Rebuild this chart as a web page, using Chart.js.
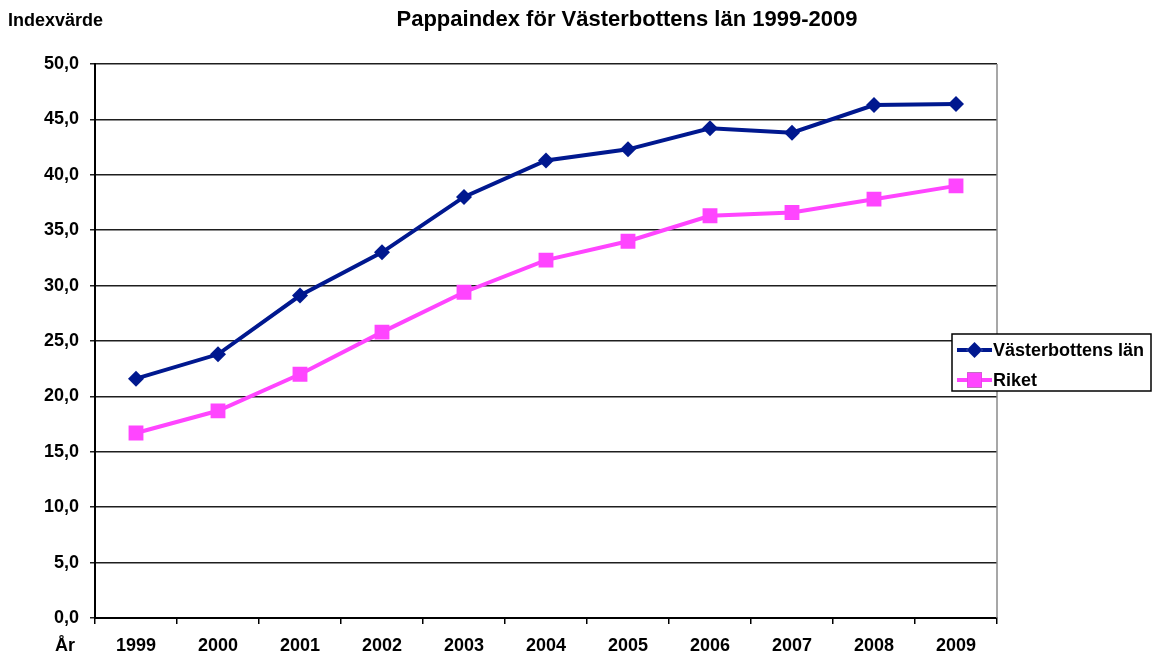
<!DOCTYPE html>
<html>
<head>
<meta charset="utf-8">
<title>Pappaindex för Västerbottens län 1999-2009</title>
<script src="https://cdn.jsdelivr.net/npm/chart.js@4/dist/chart.umd.min.js"></script>
<style>
    html, body { margin: 0; padding: 0; background: #ffffff; }
    #wrap { width: 1152px; height: 655px; position: relative; }
</style>
</head>
<body>
<div id="wrap"><canvas id="pappaindex"></canvas></div>
<script>
const AR = ["1999","2000","2001","2002","2003","2004","2005","2006","2007","2008","2009"];
const VASTERBOTTEN = [21.6, 23.8, 29.1, 33.0, 38.0, 41.3, 42.3, 44.2, 43.8, 46.3, 46.4];
const RIKET = [16.7, 18.7, 22.0, 25.8, 29.4, 32.3, 34.0, 36.3, 36.6, 37.8, 39.0];
const Y_MIN = 0;
const Y_MAX = 50;
const Y_STEG = 5;

const TITEL = "Pappaindex för Västerbottens län 1999-2009";
const Y_TITEL = "Indexvärde";
const X_TITEL = "År";

const TYPSNITT = "'Liberation Sans', Arial, Helvetica, sans-serif";

inicio();

function inicio() {
    const CANVAS = document.getElementById("pappaindex");

    const texter = {
        id: "texter",
        afterDraw(chart) {
            const ctx = chart.ctx;
            const area = chart.chartArea;
            ctx.save();
            // ram till höger om plottytan
            ctx.strokeStyle = "#8a8a8a";
            ctx.lineWidth = 1.5;
            ctx.beginPath();
            ctx.moveTo(area.right, area.top);
            ctx.lineTo(area.right, area.bottom);
            ctx.stroke();

            ctx.fillStyle = "#000000";
            ctx.textBaseline = "middle";
            ctx.font = "bold 22px " + TYPSNITT;
            ctx.textAlign = "center";
            ctx.fillText(TITEL, 627, 20);
            ctx.font = "bold 18px " + TYPSNITT;
            ctx.textAlign = "left";
            ctx.fillText(Y_TITEL, 8, 21);
            ctx.font = "bold 18px " + TYPSNITT;
            ctx.textAlign = "center";
            ctx.fillText(X_TITEL, 65, 646);

            // förklaring
            ctx.fillStyle = "#ffffff";
            ctx.fillRect(952, 334, 199, 57);
            ctx.strokeStyle = "#000000";
            ctx.lineWidth = 1.5;
            ctx.strokeRect(952, 334, 199, 57);
            chart.data.datasets.forEach(function (ds, i) {
                const y = 350 + i * 30;
                ctx.strokeStyle = ds.borderColor;
                ctx.lineWidth = ds.borderWidth;
                ctx.beginPath();
                ctx.moveTo(957, y);
                ctx.lineTo(992, y);
                ctx.stroke();
                Chart.helpers.drawPoint(ctx, {
                    pointStyle: ds.pointStyle,
                    radius: ds.pointRadius,
                    borderWidth: 0
                }, 974.5, y);
                ctx.fillStyle = ds.pointBackgroundColor;
                ctx.fill();
                ctx.fillStyle = "#000000";
                ctx.font = "bold 18px " + TYPSNITT;
                ctx.textAlign = "left";
                ctx.fillText(ds.label, 993, y + 1);
            });
            ctx.restore();
        }
    };

    const DATOS = {
        labels: AR,
        datasets: [
            {
                label: "Västerbottens län",
                data: VASTERBOTTEN,
                borderColor: "#00188f",
                backgroundColor: "#00188f",
                pointBackgroundColor: "#00188f",
                pointBorderColor: "#00188f",
                borderWidth: 4,
                pointStyle: "rectRot",
                pointRadius: 8,
                pointHoverRadius: 8,
                pointBorderWidth: 0,
                tension: 0
            },
            {
                label: "Riket",
                data: RIKET,
                borderColor: "#ff45ff",
                backgroundColor: "#ff45ff",
                pointBackgroundColor: "#ff45ff",
                pointBorderColor: "#ff45ff",
                borderWidth: 4,
                pointStyle: "rect",
                pointRadius: 10.5,
                pointHoverRadius: 10.5,
                pointBorderWidth: 0,
                tension: 0
            }
        ]
    };

    new Chart(CANVAS, {
        type: "line",
        data: DATOS,
        plugins: [texter],
        options: {
            responsive: true,
            maintainAspectRatio: false,
            animation: false,
            layout: {
                padding: { top: 64, right: 155, left: 0, bottom: 0 }
            },
            plugins: {
                legend: { display: false },
                title: { display: false },
                tooltip: { enabled: false }
            },
            scales: {
                x: {
                    offset: true,
                    afterFit: function (scale) { scale.height = 37; },
                    grid: {
                        offset: true,
                        drawOnChartArea: false,
                        drawTicks: true,
                        tickLength: 6,
                        color: "#000000",
                        lineWidth: 1.5
                    },
                    border: { color: "#000000", width: 2 },
                    ticks: {
                        color: "#000000",
                        padding: 11,
                        maxRotation: 0,
                        font: { family: TYPSNITT, size: 18, weight: "bold" }
                    }
                },
                y: {
                    min: Y_MIN,
                    max: Y_MAX,
                    afterFit: function (scale) { scale.width = 95; },
                    grid: {
                        color: "#1e1e1e",
                        lineWidth: 1.5,
                        drawTicks: true,
                        tickLength: 5
                    },
                    border: { color: "#000000", width: 2 },
                    ticks: {
                        stepSize: Y_STEG,
                        color: "#000000",
                        padding: 11,
                        font: { family: TYPSNITT, size: 18, weight: "bold" },
                        callback: function (v) { return v.toFixed(1).replace(".", ","); }
                    }
                }
            }
        }
    });
}
</script>
</body>
</html>
